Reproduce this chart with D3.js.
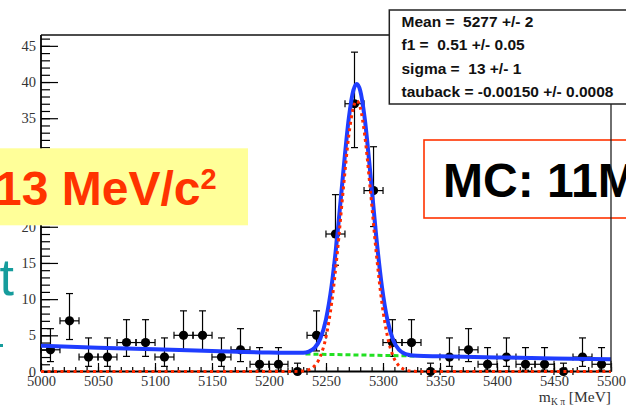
<!DOCTYPE html>
<html><head><meta charset="utf-8">
<script src="https://cdn.jsdelivr.net/npm/d3@7"></script>
<style>html,body{margin:0;padding:0;background:#fff;overflow:hidden}svg{display:block}</style>
</head><body>
<svg id="c" width="626" height="405"></svg>
<script>
// ---- data ----
const binCenters = [5008.3,5025,5041.7,5058.3,5075,5091.7,5108.3,5125,5141.7,5158.3,5175,5191.7,5208.3,5225,5241.7,5258.3,5275,5291.7,5308.3,5325,5341.7,5358.3,5375,5391.7,5408.3,5425,5441.7,5458.3,5475,5491.7];
const counts = [3,7,2,2,4,4,2,5,5,2,3,1,1,0,5,19,37,25,4,4,0,2,3,1,2,1,1,0,2,1];
const errLow  = [1.63,2.58,1.29,1.29,1.91,1.91,1.29,2.16,2.16,1.29,1.63,0.83,0.83,0,2.16,4.32,6.06,4.97,1.91,1.91,0,1.29,1.63,0.83,1.29,0.83,0.83,0,1.29,0.83];
const errHigh = [2.92,3.77,2.64,2.64,3.16,3.16,2.64,3.38,3.38,2.64,2.92,2.30,2.30,1.15,3.38,5.44,7.13,6.06,3.16,3.16,1.15,2.64,2.92,2.30,2.64,2.30,2.30,1.15,2.64,2.30];
const binHalfWidth = 8.33;

const fitX     = [5000,5050,5100,5150,5200,5230,5235,5240,5245,5250,5255,5260,5265,5270,5274,5277,5280,5284,5289,5294,5299,5304,5309,5314,5319,5324,5330,5350,5400,5450,5500];
const totalFit = [3.55,3.29,3.06,2.84,2.63,2.58,2.75,3.26,4.53,7.21,11.94,18.9,27.3,35.0,38.85,39.74,38.83,34.92,27.2,18.78,11.79,7.02,4.30,3.00,2.45,2.25,2.17,2.10,1.95,1.81,1.68];
const signalX   = [5000,5220,5230,5235,5240,5245,5250,5255,5260,5265,5270,5274,5277,5280,5284,5289,5294,5299,5304,5309,5314,5319,5324,5335,5500];
const signalFit = [0,0,0.07,0.25,0.78,2.07,4.77,9.52,16.5,24.9,32.6,36.5,37.4,36.5,32.6,24.9,16.5,9.52,4.77,2.07,0.78,0.25,0.07,0,0];
const bkgX   = [5232,5280,5328];
const bkgFit = [2.42,2.28,2.14];

const xTicks = [5000,5050,5100,5150,5200,5250,5300,5350,5400,5450,5500];
const yTicks = [0,5,10,15,20,25,30,35,40,45];
const statsLines = ["Mean =  5277 +/- 2","f1 =  0.51 +/- 0.05","sigma =  13 +/- 1","tauback = -0.00150 +/- 0.0008"];

// ---- drawing ----
const svg = d3.select("#c");
svg.append("rect").attr("width",626).attr("height",405).attr("fill","#fff");

const x = d3.scaleLinear().domain([5000,5500]).range([41,611]);
const y = d3.scaleLinear().domain([0,46.5]).range([371.5,35]);
const serif = "'Liberation Serif','Times New Roman',serif";
const sans = "'Liberation Sans',Arial,sans-serif";

// minor ticks
svg.append("g").attr("transform","translate(41,0)")
  .call(d3.axisLeft(y).tickValues(d3.range(0,47,1)).tickSize(-9).tickFormat(""))
  .call(g=>g.select(".domain").remove())
  .selectAll("line").attr("stroke","#000").attr("stroke-width",1.2);
svg.append("g").attr("transform","translate(0,371.5)")
  .call(d3.axisBottom(x).tickValues(d3.range(5000,5501,10)).tickSize(-4.5).tickFormat(""))
  .call(g=>g.select(".domain").remove())
  .selectAll("line").attr("stroke","#000").attr("stroke-width",1.2);

// major axes
const gy = svg.append("g").attr("transform","translate(41,0)")
  .call(d3.axisLeft(y).tickValues(yTicks).tickSize(-17).tickSizeOuter(0).tickPadding(5));
const gx = svg.append("g").attr("transform","translate(0,371.5)")
  .call(d3.axisBottom(x).tickValues(xTicks).tickSize(-8.5).tickSizeOuter(0).tickPadding(4).tickFormat(d3.format("d")));
[gx,gy].forEach(g=>{
  g.select(".domain").attr("stroke","#000").attr("stroke-width",1.8);
  g.selectAll(".tick line").attr("stroke","#000").attr("stroke-width",1.2);
  g.selectAll(".tick text").attr("font-family",serif).attr("font-size",14.5).attr("fill","#333");
});
gy.select(".domain").attr("d","M0,371.5V35");
gx.select(".domain").attr("d","M41,0H611");

// top frame line
svg.append("line").attr("x1",41).attr("x2",400).attr("y1",35).attr("y2",35).attr("stroke","#111").attr("stroke-width",1.5);

// axis title
const xt = svg.append("text").attr("x",611).attr("y",401.5).attr("text-anchor","end")
  .attr("font-family",serif).attr("font-size",15.5).attr("fill","#333");
xt.append("tspan").text("m");
xt.append("tspan").attr("dy",3).attr("font-size",9.5).text("K π");
xt.append("tspan").attr("dy",-3).text(" [MeV]");

// data points
const pts = svg.append("g");
binCenters.forEach((c,i)=>{
  const g = pts.append("g").attr("stroke","#000").attr("stroke-width",1.2);
  const cx = x(c), cy = y(counts[i]);
  const yl = y(counts[i]-errLow[i]), yh = y(counts[i]+errHigh[i]);
  const xl = x(c-binHalfWidth), xr = x(c+binHalfWidth);
  g.append("line").attr("x1",cx).attr("x2",cx).attr("y1",yl).attr("y2",yh);
  g.append("line").attr("x1",cx-3.5).attr("x2",cx+3.5).attr("y1",yh).attr("y2",yh);
  if (errLow[i]>0) g.append("line").attr("x1",cx-3.5).attr("x2",cx+3.5).attr("y1",yl).attr("y2",yl);
  g.append("line").attr("x1",xl).attr("x2",xr).attr("y1",cy).attr("y2",cy);
  g.append("line").attr("x1",xl).attr("x2",xl).attr("y1",cy-3.5).attr("y2",cy+3.5);
  g.append("line").attr("x1",xr).attr("x2",xr).attr("y1",cy-3.5).attr("y2",cy+3.5);
  pts.append("circle").attr("cx",cx).attr("cy",cy).attr("r",4.6).attr("fill","#000");
});

// curves
const line = d3.line().x(d=>x(d[0])).y(d=>y(d[1])).curve(d3.curveMonotoneX);
svg.append("path").datum(d3.zip(bkgX,bkgFit)).attr("d",line).attr("fill","none")
  .attr("stroke","#22e022").attr("stroke-width",3).attr("stroke-dasharray","5,3");
svg.append("path").datum(d3.zip(fitX,totalFit)).attr("d",line).attr("fill","none")
  .attr("stroke","#1f3dff").attr("stroke-width",4).attr("stroke-linejoin","round");
svg.append("path").datum(d3.zip(signalX,signalFit)).attr("d",line).attr("fill","none")
  .attr("stroke","#ff2a00").attr("stroke-width",3).attr("stroke-dasharray","3,3.5");

// MC box
svg.append("rect").attr("x",424).attr("y",140).attr("width",230).attr("height",78)
  .attr("fill","#fff").attr("stroke","#ff3300").attr("stroke-width",1.6);
svg.append("text").attr("x",443).attr("y",196.5).attr("font-family",sans).attr("font-weight","bold")
  .attr("font-size",48).attr("fill","#000").text("MC: 11M");

// right frame line
svg.append("line").attr("x1",611).attr("x2",611).attr("y1",100).attr("y2",371.5).attr("stroke","#222").attr("stroke-width",1.3);

// stats box
svg.append("rect").attr("x",389.3).attr("y",10).attr("width",260).attr("height",94)
  .attr("fill","#fff").attr("stroke","#222").attr("stroke-width",1.5);
svg.append("g").selectAll("text").data(statsLines).join("text")
  .attr("x",401.5).attr("y",(d,i)=>26.5+i*23.5)
  .attr("font-family",sans).attr("font-weight","bold").attr("font-size",15.5).attr("fill","#111")
  .attr("xml:space","preserve").style("white-space","pre").text(d=>d);

// yellow box
svg.append("rect").attr("x",-5).attr("y",148.3).attr("width",253).attr("height",77).attr("fill","#ffff99");
const yt = svg.append("text").attr("x",-5).attr("y",205).attr("font-family",sans).attr("font-weight","bold")
  .attr("font-size",48).attr("fill","#ff3300");
yt.append("tspan").text("13 MeV/c");
yt.append("tspan").attr("dy",-16).attr("font-size",29).text("2");
// teal fragments
svg.append("text").attr("x",14).attr("y",295).attr("text-anchor","end").attr("font-family",sans)
  .attr("font-size",52).attr("fill","#169c9c").text("t");
svg.append("rect").attr("x",0).attr("y",344).attr("width",3).attr("height",3).attr("fill","#169c9c");
</script>
</body></html>
